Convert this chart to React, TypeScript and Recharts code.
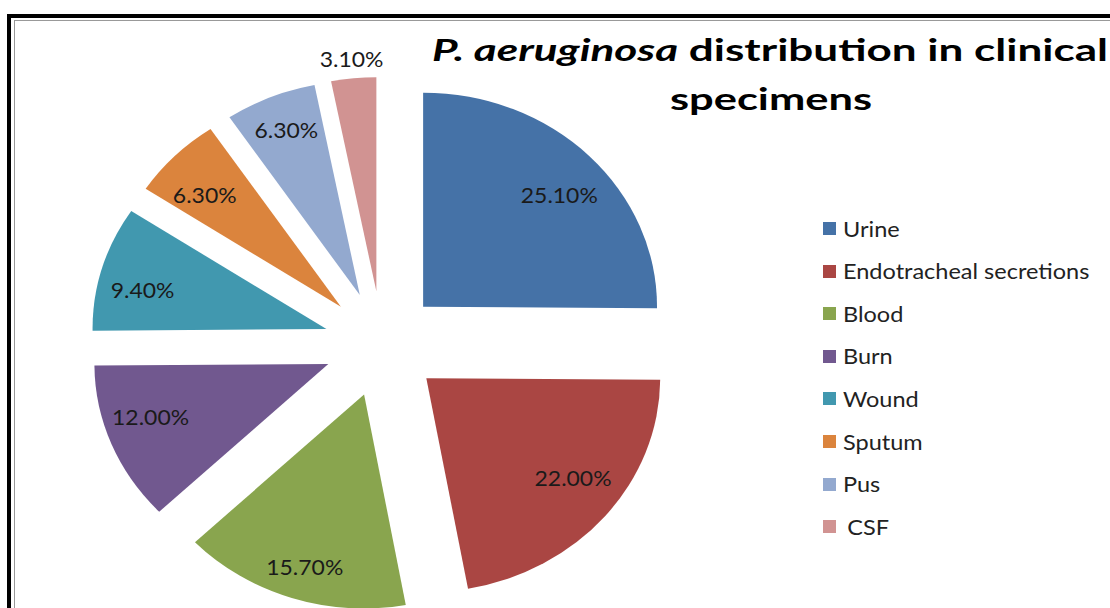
import React from "react";
import { PieChart, Pie, Cell, Sector, Legend } from "recharts";

const categories = ["Urine", "Endotracheal secretions", "Blood", "Burn", "Wound", "Sputum", "Pus", "CSF"];
const values = [25.1, 22.0, 15.7, 12.0, 9.4, 6.3, 6.3, 3.1];
const colors = ["#4572A7", "#AA4643", "#89A54E", "#71588F", "#4198AF", "#DB843D", "#93A9CF", "#D19392"];

const data = categories.map((name, i) => ({ name, value: values[i] }));

const CX = 382;
const CY = 344;
const R = 214;
const EXPLODE = 53;
const SX = 1.093;
const FONT = "Lato, 'Open Sans', sans-serif";

const stretch = (cx: number) => `translate(${cx} 0) scale(${SX} 1) translate(${-cx} 0)`;

const renderShape = (props: any) => {
  const { cx, cy, midAngle, innerRadius, outerRadius, startAngle, endAngle, fill } = props;
  const rad = (midAngle * Math.PI) / 180;
  const ox = cx + EXPLODE * Math.cos(rad);
  const oy = cy - EXPLODE * Math.sin(rad);
  return (
    <g transform={stretch(cx)}>
      <Sector
        cx={ox}
        cy={oy}
        innerRadius={innerRadius}
        outerRadius={outerRadius}
        startAngle={startAngle}
        endAngle={endAngle}
        fill={fill}
        stroke="none"
      />
    </g>
  );
};

const renderLabel = (props: any) => {
  const { cx, cy, midAngle, outerRadius, value } = props;
  const rad = (midAngle * Math.PI) / 180;
  const s = Math.sin(rad);
  const outside = value < 5;
  const rx = outside ? outerRadius + 19 : outerRadius * 0.82;
  const ry = outside ? outerRadius + 19 : outerRadius * (0.62 + 0.25 * s * s);
  const x = cx + SX * (EXPLODE + rx) * Math.cos(rad);
  const y = cy - EXPLODE * s - ry * s;
  return (
    <text
      x={0}
      y={0}
      transform={`translate(${x} ${y}) scale(${SX} 1)`}
      textAnchor="middle"
      dominantBaseline="central"
      fontFamily={FONT}
      fontSize={21}
      fill="#1a1a1a"
    >
      {`${Number(value).toFixed(2)}%`}
    </text>
  );
};

const LegendBox = () => (
  <div style={{ position: "absolute", left: 823, top: 207.5, fontFamily: FONT }}>
    {data.map((d, i) => (
      <div key={d.name} style={{ height: 42.56, display: "flex", alignItems: "center", whiteSpace: "nowrap" }}>
        <span style={{ width: 13, height: 13, background: colors[i], display: "inline-block", marginRight: 7 }} />
        <span
          style={{
            display: "inline-block",
            fontSize: 21.5,
            color: "#222",
            transform: `scaleX(${SX})`,
            transformOrigin: "left center",
            paddingLeft: d.name === "CSF" ? 4 : 0,
          }}
        >
          {d.name}
        </span>
      </div>
    ))}
  </div>
);

export default function App() {
  return (
    <div style={{ position: "absolute", left: 0, top: 0, width: 1110, height: 608, overflow: "hidden", background: "#fff" }}>
      <div style={{ position: "absolute", left: 7, top: 14, width: 1200, height: 700, borderLeft: "4px solid #000", borderTop: "4px solid #000" }} />
      <div style={{ position: "absolute", left: 14, top: 20, width: 1200, height: 700, borderLeft: "1px solid #999", borderTop: "1px solid #999" }} />
      <div style={{ position: "absolute", left: 0, top: 0 }}>
        <PieChart width={1110} height={608} margin={{ top: 0, right: 0, bottom: 0, left: 0 }}>
          <text x={432} y={61} textLength={676} lengthAdjust="spacingAndGlyphs" fontFamily={FONT} fontWeight="bold" fontSize={31} fill="#000">
            <tspan fontStyle="italic">P. aeruginosa</tspan>
            <tspan> distribution in clinical</tspan>
          </text>
          <text x={670} y={110} textLength={202} lengthAdjust="spacingAndGlyphs" fontFamily={FONT} fontWeight="bold" fontSize={31} fill="#000">
            specimens
          </text>
          <Pie
            data={data}
            dataKey="value"
            nameKey="name"
            cx={CX}
            cy={CY}
            innerRadius={0}
            outerRadius={R}
            startAngle={90}
            endAngle={-270}
            isAnimationActive={false}
            shape={renderShape}
            label={renderLabel}
            labelLine={false}
            stroke="none"
          >
            {data.map((d, i) => (
              <Cell key={d.name} fill={colors[i]} />
            ))}
          </Pie>
          <Legend content={() => <LegendBox />} wrapperStyle={{ position: "absolute", left: 0, top: 0, width: 0, height: 0 }} />
        </PieChart>
      </div>
    </div>
  );
}
